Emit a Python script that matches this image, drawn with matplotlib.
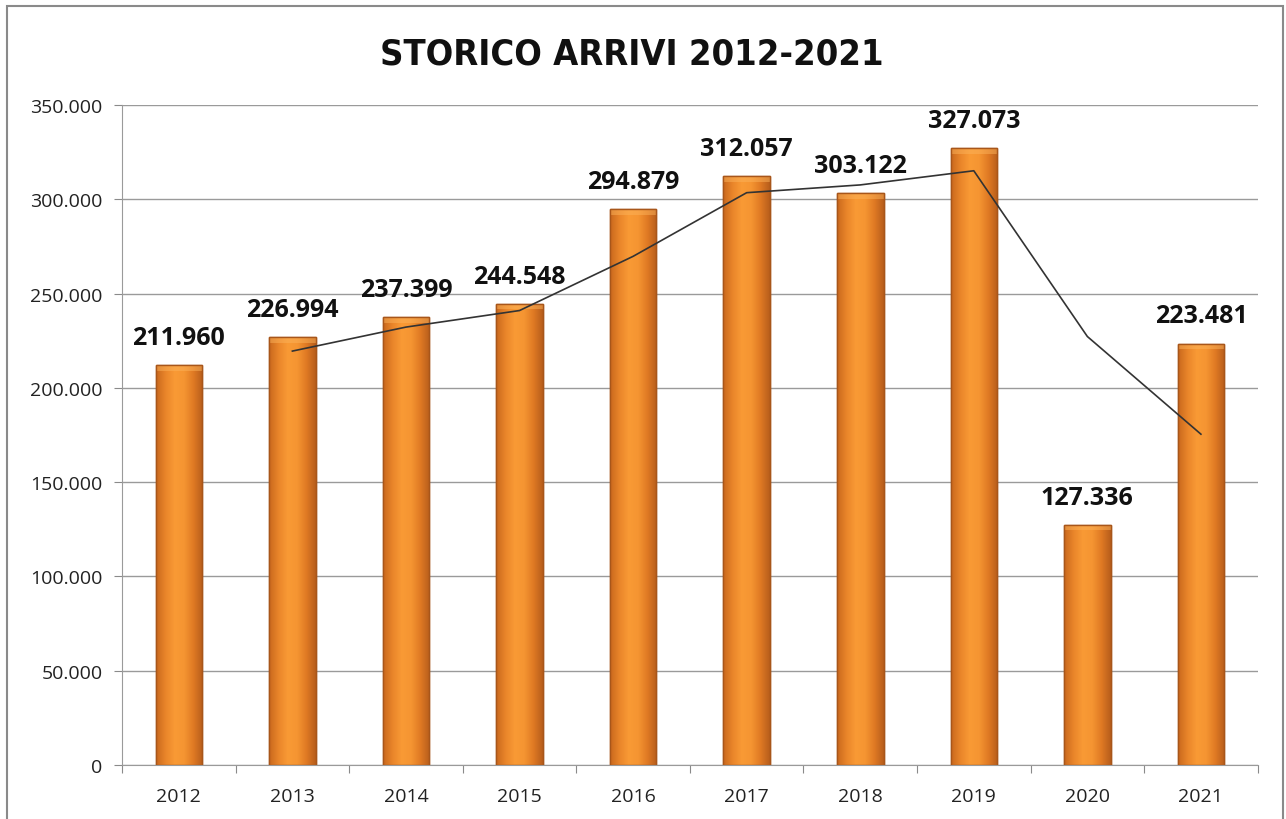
import numpy as np
import pandas as pd
import matplotlib
matplotlib.use("Agg")
import matplotlib.pyplot as plt
from matplotlib.colors import LinearSegmentedColormap
from matplotlib.ticker import FuncFormatter, MultipleLocator
from matplotlib.patches import Rectangle

years = ["2012", "2013", "2014", "2015", "2016", "2017", "2018", "2019", "2020", "2021"]
arrivi = [211960, 226994, 237399, 244548, 294879, 312057, 303122, 327073, 127336, 223481]

# moving average trendline (period 2), as in the original chart
trend = pd.Series(arrivi).rolling(2).mean().values

plt.rcParams['font.family'] = ['Open Sans', 'DejaVu Sans']

fig = plt.figure(figsize=(12.86, 8.2), dpi=100)
ax = fig.add_axes([0.0949, 0.0659, 0.8831, 0.8049])

# outer frame
fig.patches.append(Rectangle((7 / 1286, -0.01), 1276 / 1286, 1 - 7 / 820 + 0.01,
                             transform=fig.transFigure, fill=False,
                             edgecolor='#8a8a8a', linewidth=1.5))

x = np.arange(len(years))
w = 0.41
bars = ax.bar(x, arrivi, width=w, color='#ee8a2c', edgecolor='#a8561a',
              linewidth=1.0, zorder=2)

grad = LinearSegmentedColormap.from_list(
    'bar', ['#c9681d', '#e9852a', '#f99a35', '#f59532', '#e07a24', '#b85e1b'])
g = np.linspace(0, 1, 100).reshape(1, -1)
for b in bars:
    im = ax.imshow(g, cmap=grad, aspect='auto', zorder=2.5,
                   extent=[b.get_x(), b.get_x() + b.get_width(), 0, b.get_height()])
    im.set_clip_path(b)
    ax.add_patch(Rectangle((b.get_x(), b.get_height() - 3000), b.get_width(), 3000,
                           facecolor='#fbb25a', edgecolor='none', zorder=2.6, alpha=0.5))
    ax.add_patch(Rectangle((b.get_x(), b.get_y()), b.get_width(), b.get_height(),
                           fill=False, edgecolor='#a8561a', linewidth=1.0, zorder=2.7))

for xi, v in zip(x, arrivi):
    ax.annotate(f"{v:,}".replace(",", "."), (xi, v), xytext=(0, 11),
                textcoords='offset points', ha='center', va='bottom',
                fontsize=18, fontweight='bold', color='#111111', zorder=4)

ax.plot(x, trend, color='#333333', linewidth=1.2, zorder=3)

ax.set_xlim(-0.5, len(years) - 0.5)
ax.set_ylim(0, 350000)
ax.yaxis.set_major_locator(MultipleLocator(50000))
ax.yaxis.set_major_formatter(FuncFormatter(lambda v, p: f"{int(v):,}".replace(",", ".")))
ax.set_xticks(np.arange(-0.5, len(years)), minor=False)
ax.set_xticklabels([])
ax.set_xticks(x, minor=True)
ax.set_xticklabels(years, minor=True)
ax.tick_params(axis='x', which='major', length=6, color='#8a8a8a')
ax.tick_params(axis='x', which='minor', length=0, pad=16, labelsize=14, labelcolor='#222222')
ax.tick_params(axis='y', length=6, color='#8a8a8a', labelsize=14, labelcolor='#222222', pad=8)

ax.grid(axis='y', color='#9a9a9a', linewidth=1.0, zorder=0)
ax.set_axisbelow(True)
for s in ['top', 'right']:
    ax.spines[s].set_visible(False)
ax.spines['left'].set_color('#9a9a9a')
ax.spines['bottom'].set_color('#9a9a9a')

fig.text(0.491, 0.934, "STORICO ARRIVI 2012-2021", ha='center', va='center',
         fontsize=26, fontweight='bold', fontstretch='condensed',
         family=['DejaVu Sans'], color='#111111')

fig.savefig("out.png", dpi=100)
